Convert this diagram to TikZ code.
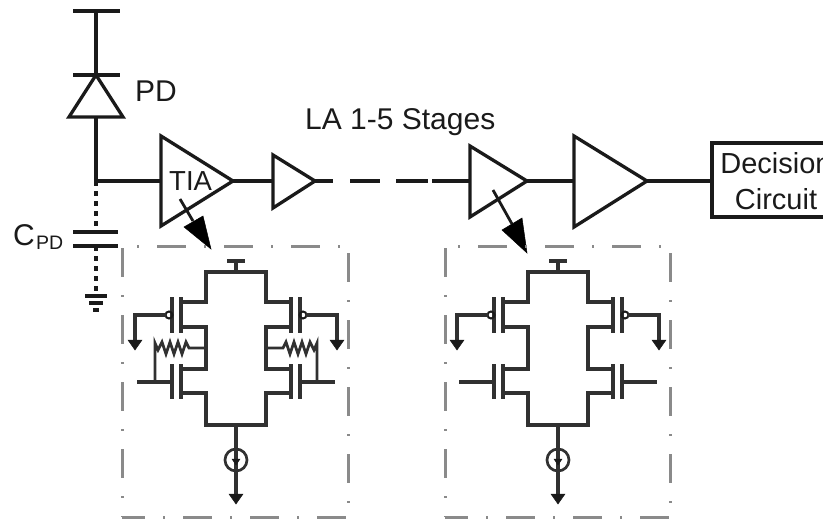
\documentclass[tikz,border=0pt]{standalone}
\usepackage{fontspec}
\setmainfont{Liberation Sans}
\definecolor{ink}{HTML}{1A1A1A}
\definecolor{boxgray}{HTML}{8A8A8A}
\tikzset{
  wire/.style={draw=ink,line width=4pt,line join=miter},
  cellwire/.style={draw=ink!90!white,line width=3.4pt,line join=miter},
  cellcurve/.style={draw=ink!90!white,line width=2.7pt,line join=miter},
  dotwire/.style={draw=ink,line width=4pt,dash pattern=on 5pt off 5pt},
  amp/.style={draw=ink,line width=3.3pt,line join=miter},
  linkwire/.style={draw=ink,line width=2.8pt},
  framedash/.style={draw=boxgray,line width=3pt,dash pattern=on 29pt off 18pt on 2pt off 18pt},
  lbl/.style={inner sep=0pt,anchor=base west,text=ink},
  lblc/.style={inner sep=0pt,anchor=base,text=ink},
  gndtip/.style={fill=ink,draw=ink,line width=.5pt,line join=miter},
  bigtip/.style={fill=black,draw=black,line width=.5pt,line join=miter},
}
\newcommand{\fs}[1]{\fontsize{#1}{#1}\selectfont}
\newcommand{\cellside}{%
  \draw[cellwire] (0,272) -- (-30,272) -- (-30,302) -- (-55,302);
  \draw[cellwire] (-55,327) -- (-30,327) -- (-30,369) -- (-55,369);
  \draw[cellwire] (-55,393) -- (-30,393) -- (-30,425) -- (0,425);
  \draw[cellwire] (-55,297) -- (-55,333);
  \draw[cellwire] (-55,364) -- (-55,399);
  \draw[cellwire] (-64,297) -- (-64,333);
  \draw[cellwire] (-64,364) -- (-64,399);
  \draw[draw=ink,line width=2pt] (-67,315) circle (3.5);
  \draw[cellwire] (-70,315) -- (-101,315) -- (-101,342);
  \fill[gndtip] (-108,340) -- (-94,340) -- (-101,350) -- cycle;
  \draw[cellwire] (-64,382) -- (-99,382);
}
\newcommand{\cellres}{%
  \draw[cellcurve] (-30,348) -- (-47,348) -- (-50,342) -- (-54,354) -- (-58,342) -- (-62,354) -- (-66,342) -- (-70,354) -- (-74,342) -- (-78,350) -- (-81,343) -- (-81,382);
}
\newcommand{\cellmid}{%
  \draw[cellwire] (-9,261) -- (9,261);
  \draw[cellwire] (0,261) -- (0,272);
  \draw[cellwire] (0,425) -- (0,496);
  \draw[cellcurve] (0,460) circle (11);
  \fill[gndtip] (-7,494) -- (7,494) -- (0,504) -- cycle;
  \fill[gndtip] (-4,459) -- (4,459) -- (0,465) -- cycle;
}
\begin{document}
\begin{tikzpicture}[x=1pt,y=-1pt]
\useasboundingbox (0,0) rectangle (823,519);
\clip (0,0) rectangle (823,519);
% photodiode branch
\coordinate (vt) at (96,11);
\coordinate (pdc) at (96,75);
\coordinate (pda) at (96,117);
\coordinate (n1) at (96,181);
\coordinate (cpt) at (96,232);
\coordinate (cpb) at (96,246);
\coordinate (gn) at (96,296);
\draw[wire] (73,11) -- (120,11);
\draw[wire] (vt) -- (pdc);
\draw[wire] (73,75) -- (120,75);
\draw[amp] (pdc) -- (123,117) -- (69,117) -- cycle;
\draw[wire] (pda) -- (n1);
\draw[dotwire] (n1) -- (cpt);
\draw[wire] (73,232) -- (118,232);
\draw[wire] (73,246) -- (118,246);
\draw[dotwire] (cpb) -- (gn);
\draw[wire] (85,296) -- (107,296);
\draw[wire] (89,303) -- (103,303);
\draw[wire] (93,310) -- (99,310);
\node[lbl] (pdl) at (135,102) {\fs{30}PD};
\node[lbl] (cl) at (13,245) {\fs{30}C};
\node[lbl] (cs) at (36,249) {\fs{19.5}PD};
% amplifier chain
\coordinate (a1i) at (161,181);
\coordinate (a1o) at (233,181);
\coordinate (a2i) at (273,181);
\coordinate (a2o) at (315,181);
\coordinate (a3i) at (470,181);
\coordinate (a3o) at (527,181);
\coordinate (a4i) at (574,181);
\coordinate (a4o) at (647,181);
\draw[amp] (161,136) -- (a1o) -- (161,226) -- cycle;
\draw[amp] (273,155) -- (a2o) -- (273,208) -- cycle;
\draw[amp] (470,146) -- (a3o) -- (470,217) -- cycle;
\draw[amp] (574,136) -- (a4o) -- (574,227) -- cycle;
\draw[wire] (n1) -- (a1i);
\draw[wire] (a1o) -- (a2i);
\draw[wire] (a2o) -- (333,181);
\draw[wire] (350,181) -- (380,181);
\draw[wire] (396,181) -- (428,181);
\draw[wire] (432,181) -- (a3i);
\draw[wire] (a3o) -- (a4i);
\draw[wire] (a4o) -- (712,181);
\node[lbl] (tia) at (169,190) {\fs{27.5}TIA};
\node[lbl] (la) at (305,130) {\fs{30}LA 1-5 Stages};
% decision box
\draw[wire] (712,143) rectangle (835,217);
\node[lblc] (dec) at (776,173) {\fs{29}Decision};
\node[lblc] (cir) at (776,209) {\fs{29}Circuit};
% links to the cells
\coordinate (l1s) at (180,199);
\coordinate (l1e) at (193,221);
\coordinate (l2s) at (493,190);
\coordinate (l2e) at (512,224);
\draw[linkwire] (l1s) -- (l1e);
\fill[bigtip] (184,227) -- (203,216) -- (211,249) -- cycle;
\draw[linkwire] (l2s) -- (l2e);
\fill[bigtip] (502,230) -- (522,218) -- (527,253) -- cycle;
% frames
\draw[framedash,dash phase=32pt] (122,246) -- (349,246);
\draw[framedash,dash phase=6pt] (122,517) -- (349,517);
\draw[framedash,dash phase=65pt] (122,246) -- (122,517);
\draw[framedash,dash phase=60pt] (348,246) -- (348,517);
\draw[framedash,dash phase=34pt] (445,246) -- (671,246);
\draw[framedash,dash phase=6pt] (445,517) -- (671,517);
\draw[framedash,dash phase=65pt] (445,246) -- (445,517);
\draw[framedash,dash phase=60pt] (670,246) -- (670,517);
% cells
\begin{scope}[shift={(236,0)}]
  \cellmid \cellside \cellres
  \begin{scope}[xscale=-1] \cellside \cellres \end{scope}
\end{scope}
\begin{scope}[shift={(558,0)}]
  \cellmid \cellside
  \begin{scope}[xscale=-1] \cellside \end{scope}
\end{scope}
\end{tikzpicture}
\end{document}
